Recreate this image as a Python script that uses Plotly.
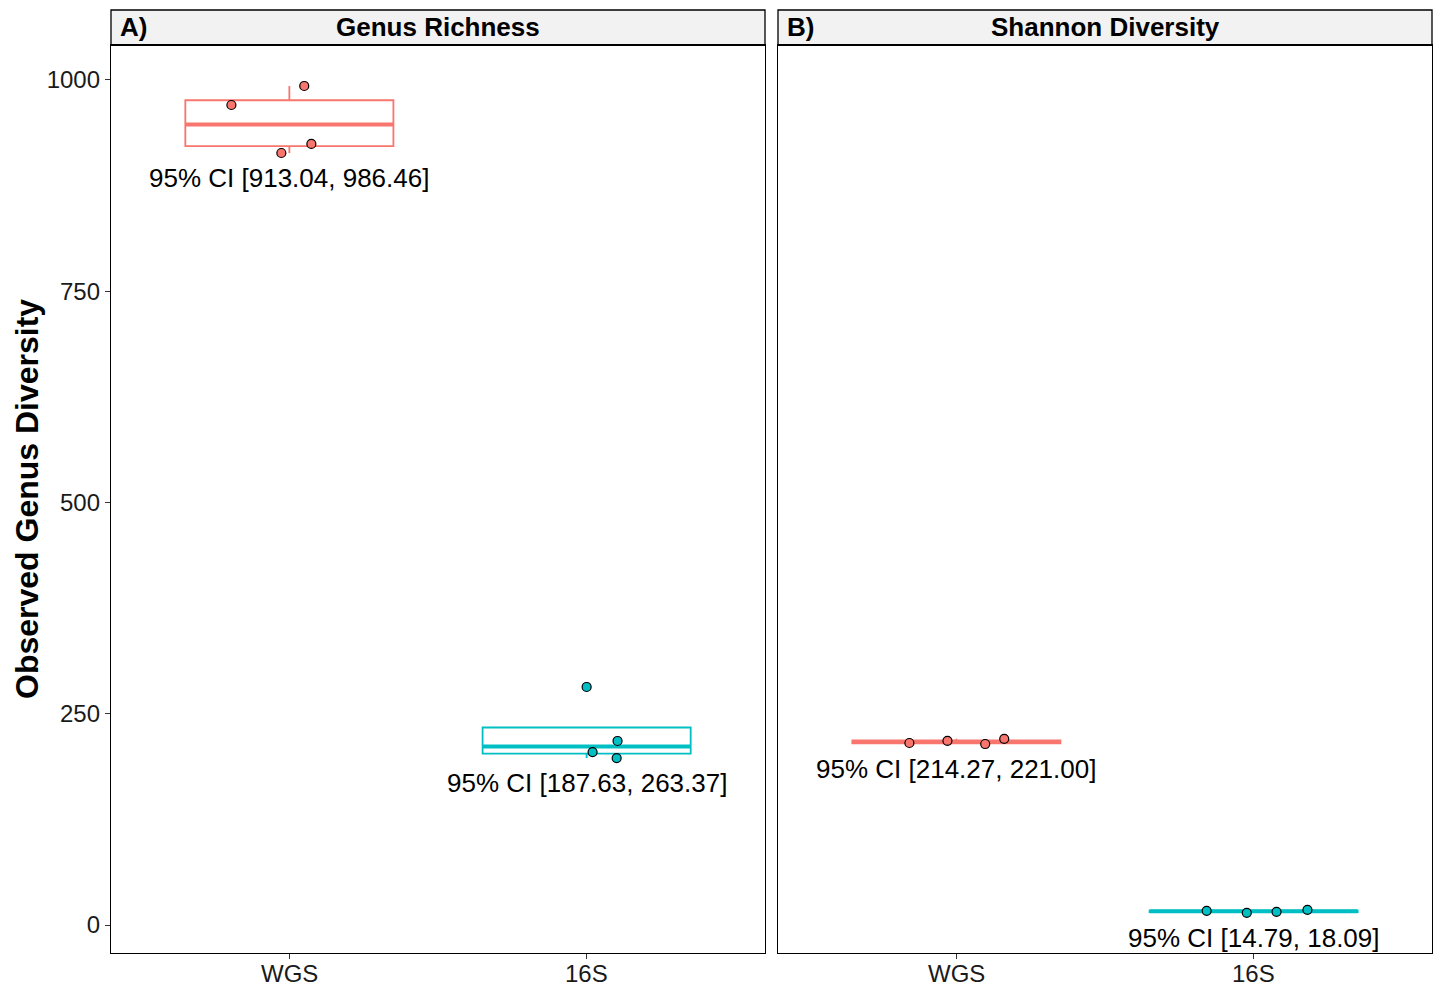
import numpy as np
import plotly.graph_objects as go

# ---- data ----
groups = ["WGS", "16S"]
panel_titles = ["Genus Richness", "Shannon Diversity"]
panel_tags = ["A)", "B)"]

richness_wgs = [970.4, 992.9, 913.6, 924.3]
richness_16s = [281.7, 217.8, 204.7, 197.6]
shannon_wgs = [215.4, 218.0, 214.2, 220.4]
shannon_16s = [16.8, 14.5, 15.6, 18.0]

jitter_richness_wgs = [-0.195, 0.050, -0.027, 0.074]
jitter_richness_16s = [0.000, 0.104, 0.020, 0.101]
jitter_shannon_wgs = [-0.158, -0.030, 0.097, 0.161]
jitter_shannon_16s = [-0.158, -0.023, 0.077, 0.181]

ci_richness = ["95% CI [913.04, 986.46]", "95% CI [187.63, 263.37]"]
ci_shannon = ["95% CI [214.27, 221.00]", "95% CI [14.79, 18.09]"]

y_ticks = [0, 250, 500, 750, 1000]
colors = ["#F8766D", "#00BFC4"]

FONT = "Liberation Sans, Arial, sans-serif"
BOX_W = 0.7


def tukey_stats(v):
    a = np.sort(np.asarray(v, dtype=float))
    q1, med, q3 = np.percentile(a, [25, 50, 75])
    iqr = q3 - q1
    lo = a[a >= q1 - 1.5 * iqr].min()
    hi = a[a <= q3 + 1.5 * iqr].max()
    return float(q1), float(med), float(q3), float(min(lo, q1)), float(max(hi, q3))


fig = go.Figure()

panels = [
    ("x", "y", [richness_wgs, richness_16s], [jitter_richness_wgs, jitter_richness_16s], ci_richness),
    ("x2", "y2", [shannon_wgs, shannon_16s], [jitter_shannon_wgs, jitter_shannon_16s], ci_shannon),
]

annotations = []
for xa, ya, vals, jits, cis in panels:
    for gi, (v, j, ci) in enumerate(zip(vals, jits, cis)):
        col = colors[gi]
        q1, med, q3, lf, uf = tukey_stats(v)
        fig.add_trace(go.Box(
            x=[gi], q1=[q1], median=[med], q3=[q3], lowerfence=[lf], upperfence=[uf],
            width=BOX_W, xaxis=xa, yaxis=ya, whiskerwidth=0,
            line=dict(color=col, width=1.8), fillcolor="rgba(0,0,0,0)",
            showlegend=False, hoverinfo="skip",
        ))
        fig.add_trace(go.Scatter(
            x=[gi - BOX_W / 2, gi + BOX_W / 2], y=[med, med], mode="lines",
            line=dict(color=col, width=4), xaxis=xa, yaxis=ya,
            showlegend=False, hoverinfo="skip",
        ))
        fig.add_trace(go.Scatter(
            x=[gi + o for o in j], y=v, mode="markers", xaxis=xa, yaxis=ya,
            marker=dict(color=col, size=9, line=dict(color="black", width=1.2)),
            showlegend=False,
        ))
        annotations.append(dict(
            x=gi, y=min(v) - 30, xref=xa, yref=ya, text=ci, showarrow=False,
            xanchor="center", yanchor="middle",
            font=dict(family=FONT, size=26, color="black"),
        ))
    # x tick labels as annotations (keeps them inside the page)
    for gi, g in enumerate(groups):
        annotations.append(dict(
            x=gi, y=0, xref=xa, yref="paper", text=g, showarrow=False,
            xanchor="center", yanchor="top", yshift=-5,
            font=dict(family=FONT, size=24, color="#1a1a1a"),
        ))

L, R, T, B = 111, 5, 10, 33
W, H = 1437, 986
pw, ph = W - L - R, H - T - B
dA = [0, (765 - L) / pw]
dB = [(778 - L) / pw, 1]
ytop = (953 - 45) / ph
yr = [-33.1, 1041.4]
xr = [-0.6, 1.6]

axis_common = dict(showline=True, linecolor="black", linewidth=1.3, mirror=True,
                   showgrid=False, zeroline=False, ticks="outside", ticklen=5,
                   tickcolor="#333333", tickwidth=1.2, automargin=False,
                   tickfont=dict(family=FONT, size=24, color="#1a1a1a"))

fig.update_layout(
    width=W, height=H,
    margin=dict(l=L, r=R, t=T, b=B, autoexpand=False),
    plot_bgcolor="white", paper_bgcolor="white",
    xaxis=dict(domain=dA, range=xr, tickvals=[0, 1], showticklabels=False, anchor="y", **axis_common),
    xaxis2=dict(domain=dB, range=xr, tickvals=[0, 1], showticklabels=False, anchor="y2", **axis_common),
    yaxis=dict(domain=[0, ytop], range=yr, tickvals=y_ticks, anchor="x", **axis_common),
    yaxis2=dict(domain=[0, ytop], range=yr, tickvals=y_ticks, anchor="x2", matches="y",
                **{**axis_common, "ticks": "", "showticklabels": False}),
    showlegend=False,
    boxmode="overlay",
)

shapes = []
for d, tag, title in zip([dA, dB], panel_tags, panel_titles):
    shapes.append(dict(type="rect", xref="paper", yref="paper", x0=d[0], x1=d[1], y0=ytop, y1=1,
                       fillcolor="#F2F2F2", line=dict(color="black", width=1.3), layer="below"))
    shapes.append(dict(type="line", xref="paper", yref="paper", x0=d[0], x1=d[1], y0=ytop, y1=ytop,
                       line=dict(color="black", width=2.2)))
    annotations.append(dict(x=d[0], y=(ytop + 1) / 2, xref="paper", yref="paper", text="<b>" + tag + "</b>",
                            showarrow=False, xanchor="left", yanchor="middle", xshift=7,
                            font=dict(family=FONT, size=26, color="black")))
    annotations.append(dict(x=(d[0] + d[1]) / 2, y=(ytop + 1) / 2, xref="paper", yref="paper",
                            text="<b>" + title + "</b>", showarrow=False, xanchor="center", yanchor="middle",
                            font=dict(family=FONT, size=26, color="black")))

annotations.append(dict(x=(27 - L) / pw, y=ytop / 2, xref="paper", yref="paper",
                        text="<b>Observed Genus Diversity</b>", textangle=-90, showarrow=False,
                        xanchor="center", yanchor="middle",
                        font=dict(family=FONT, size=32, color="black")))

fig.update_layout(shapes=shapes, annotations=annotations)
fig.write_html("out.html", config={"displayModeBar": False},
               post_script="document.body.style.margin='0px';document.body.style.overflow='hidden';")
